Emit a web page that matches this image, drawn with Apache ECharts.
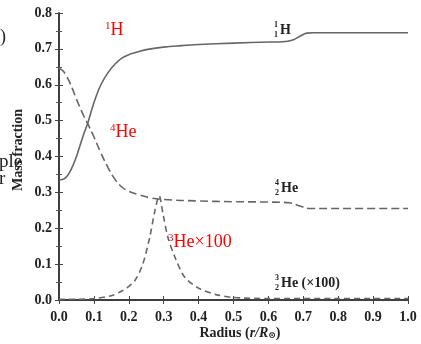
<!DOCTYPE html>
<html><head><meta charset="utf-8">
<script src="https://cdn.jsdelivr.net/npm/echarts@6/dist/echarts.min.js"></script>
<style>html,body{margin:0;padding:0;background:#fff}#c{width:421px;height:344px}</style>
</head><body><div id="c"></div>
<script>
var xTicks = [0,0.1,0.2,0.3,0.4,0.5,0.6,0.7,0.8,0.9,1.0];
var yTicks = [0,0.1,0.2,0.3,0.4,0.5,0.6,0.7,0.8];

var h1X = [0, 0.01, 0.02, 0.03, 0.04, 0.05, 0.06, 0.07, 0.083, 0.1, 0.12, 0.14, 0.16, 0.18, 0.2, 0.22, 0.25, 0.3, 0.35, 0.4, 0.5, 0.6, 0.64, 0.67, 0.69, 0.71, 0.73, 0.85, 1.0];
var h1Y = [0.335, 0.336, 0.342, 0.355, 0.375, 0.40, 0.43, 0.46, 0.495, 0.55, 0.60, 0.633, 0.657, 0.674, 0.684, 0.69, 0.698, 0.705, 0.709, 0.712, 0.716, 0.719, 0.72, 0.725, 0.735, 0.744, 0.745, 0.745, 0.745];

var he4X = [0, 0.01, 0.02, 0.03, 0.04, 0.05, 0.07, 0.083, 0.1, 0.12, 0.14, 0.16, 0.18, 0.2, 0.23, 0.26, 0.3, 0.4, 0.5, 0.6, 0.66, 0.69, 0.72, 0.8, 1.0];
var he4Y = [0.645, 0.64, 0.627, 0.608, 0.585, 0.56, 0.515, 0.49, 0.455, 0.41, 0.37, 0.337, 0.315, 0.303, 0.293, 0.285, 0.28, 0.276, 0.274, 0.273, 0.271, 0.262, 0.255, 0.255, 0.255];

var he3X = [0, 0.05, 0.1, 0.15, 0.18, 0.2, 0.218, 0.24, 0.26, 0.275, 0.287, 0.298, 0.312, 0.332, 0.36, 0.4, 0.45, 0.5, 0.6, 0.8, 1.0];
var he3Y = [0.002, 0.002, 0.004, 0.012, 0.025, 0.038, 0.055, 0.10, 0.175, 0.25, 0.29, 0.24, 0.175, 0.12, 0.064, 0.033, 0.015, 0.007, 0.004, 0.004, 0.004];

function pairs(xs, ys){ return xs.map(function(x,i){return [x, ys[i]];}); }

var serif = '"Liberation Serif","DejaVu Serif",serif';
var chart = echarts.init(document.getElementById('c'));
var axisLine = {show:true, lineStyle:{color:'#333', width:1.5}};
var tick = {show:true, inside:true, length:4, lineStyle:{color:'#444'}};
var minor = {show:true, splitNumber:2, length:3, lineStyle:{color:'#555'}};
var lbl = {color:'#222', fontFamily:serif, fontWeight:'bold', fontSize:14};

chart.setOption({
  animation:false,
  grid:{left:59, right:13, top:13, bottom:44},
  xAxis:[
    {type:'value', min:0, max:1, interval:0.1, axisLine:axisLine, axisTick:tick,
     splitLine:{show:false}, axisLabel:Object.assign({margin:10, formatter:function(v){return v.toFixed(1);}}, lbl)},
    {type:'value', position:'top', min:0, max:1, interval:0.1, axisLine:axisLine, axisTick:tick,
     splitLine:{show:false}, axisLabel:{show:false}}
  ],
  yAxis:[
    {type:'value', min:0, max:0.8, interval:0.1, axisLine:axisLine, axisTick:tick, minorTick:minor,
     splitLine:{show:false}, axisLabel:Object.assign({margin:7, formatter:function(v){return v.toFixed(1);}}, lbl)},
    {type:'value', position:'right', min:0, max:0.8, interval:0.1, axisLine:axisLine, axisTick:tick, minorTick:minor,
     splitLine:{show:false}, axisLabel:{show:false}}
  ],
  series:[
    {type:'line', data:pairs(h1X,h1Y), smooth:0.4, symbol:'none',
     lineStyle:{color:'#666', width:1.6}},
    {type:'line', data:pairs(he4X,he4Y), smooth:0.4, symbol:'none',
     lineStyle:{color:'#666', width:1.6, type:[8,4]}},
    {type:'line', data:pairs(he3X,he3Y), smooth:0.3, symbol:'none',
     lineStyle:{color:'#666', width:1.6, type:[6,4]}}
  ],
  graphic:[
    {type:'text', left:-6, top:28, style:{text:'r)', font:'18px '+serif, fill:'#222'}},
    {type:'text', left:-1, top:153, style:{text:'ple', font:'19px '+serif, fill:'#222'}},
    {type:'text', left:-1, top:170, style:{text:'r', font:'19px '+serif, fill:'#222'}},
    {type:'text', x:18, y:150, rotation:Math.PI/2, style:{text:'Mass fraction', font:'bold 14px '+serif, fill:'#222', align:'center', verticalAlign:'middle'}},
    {type:'text', x:240, y:333, style:{text:'{b|Radius (}{i|r/R}{s|⊙}{b|)}', rich:{
        b:{font:'bold 14px '+serif, fill:'#222'},
        i:{font:'italic bold 14px '+serif, fill:'#222'},
        s:{font:'bold 9px '+serif, fill:'#222', verticalAlign:'bottom', padding:[6,0,0,0]}},
      align:'center', verticalAlign:'middle'}},
    {type:'text', left:105, top:21, style:{text:'{s|1}{t|H}', rich:{s:{font:'11px '+serif, fill:'#f00', verticalAlign:'top'}, t:{font:'18px '+serif, fill:'#f00'}}}},
    {type:'text', left:110, top:123, style:{text:'{s|4}{t|He}', rich:{s:{font:'11px '+serif, fill:'#f00', verticalAlign:'top'}, t:{font:'18px '+serif, fill:'#f00'}}}},
    {type:'text', left:168, top:233, style:{text:'{s|3}{t|He×100}', rich:{s:{font:'11px '+serif, fill:'#f00', verticalAlign:'top'}, t:{font:'18px '+serif, fill:'#f00'}}}},
    {type:'text', x:276, y:25, style:{text:'1', font:'bold 8px '+serif, fill:'#222', align:'center', verticalAlign:'middle'}},
    {type:'text', x:276, y:35, style:{text:'1', font:'bold 8px '+serif, fill:'#222', align:'center', verticalAlign:'middle'}},
    {type:'text', x:280, y:30, style:{text:'H', font:'bold 14px '+serif, fill:'#222', verticalAlign:'middle'}},
    {type:'text', x:277, y:183, style:{text:'4', font:'bold 8px '+serif, fill:'#222', align:'center', verticalAlign:'middle'}},
    {type:'text', x:277, y:193, style:{text:'2', font:'bold 8px '+serif, fill:'#222', align:'center', verticalAlign:'middle'}},
    {type:'text', x:281, y:188, style:{text:'He', font:'bold 14px '+serif, fill:'#222', verticalAlign:'middle'}},
    {type:'text', x:277, y:278, style:{text:'3', font:'bold 8px '+serif, fill:'#222', align:'center', verticalAlign:'middle'}},
    {type:'text', x:277, y:288, style:{text:'2', font:'bold 8px '+serif, fill:'#222', align:'center', verticalAlign:'middle'}},
    {type:'text', x:281, y:283, style:{text:'He (×100)', font:'bold 14px '+serif, fill:'#222', verticalAlign:'middle'}}
  ]
});
</script></body></html>
